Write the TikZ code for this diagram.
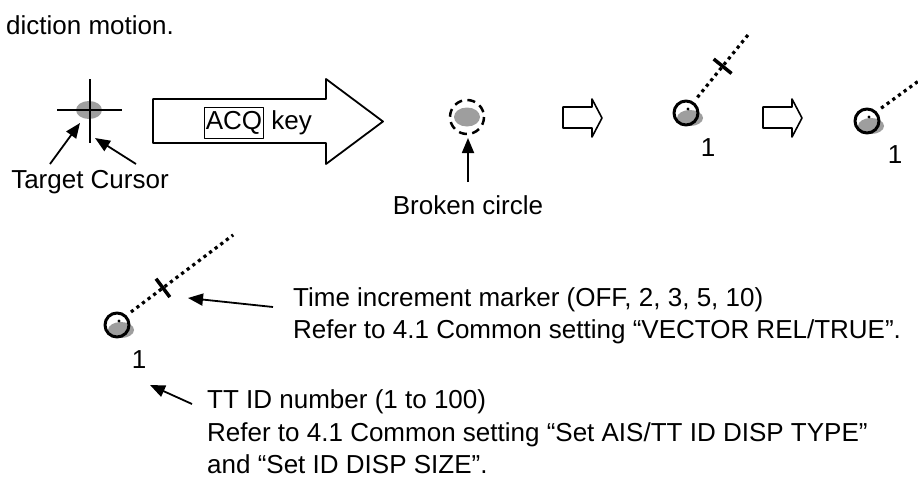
\documentclass[tikz,border=0pt]{standalone}
\usepackage{fontspec}
\setmainfont{Liberation Sans}
\usetikzlibrary{arrows.meta}
\begin{document}
\begin{tikzpicture}[x=1pt,y=-1pt,line join=round,
    txt/.style={font=\fontsize{26}{32.5}\selectfont,inner sep=0pt},
    blip/.style={fill=black!38},
    ring/.style={line width=3pt},
    vec/.style={line width=3.2pt,dash pattern=on 3.2pt off 3.8pt},
    tickmark/.style={line width=3.5pt},
    ptr/.style={line width=1.8pt,-{Triangle[length=15pt,width=12pt]}},
    hollow/.style={line width=1.8pt,fill=white}]
\useasboundingbox (0,0) rectangle (918,479);
\node[txt,anchor=east] (cap) at (174,25) {diction motion.};
% cursor on the echo
\fill[blip] (89,110) ellipse (13 and 9);
\draw[line width=2.2pt] (57,110) -- (122,110) (90,79) -- (90,143);
\node[txt] (tc) at (90,182) {Target Cursor};
\path (50,164) coordinate (tc1) (136,164) coordinate (tc2)
      (80,123) coordinate (ech) (95,138) coordinate (crs);
\draw[ptr] (tc1) -- (ech);
\draw[ptr] (tc2) -- (crs);
% ACQ key arrow
\draw[hollow] (153,99) -- (326,99) -- (326,79) -- (383,121.5) -- (326,164) -- (326,143) -- (153,143) -- cycle;
\node[txt,draw,line width=1.4pt,minimum width=59pt,minimum height=31pt] (acq) at (234,123) {ACQ};
\node[txt,anchor=base west] (key) at ([xshift=7pt]acq.base east) {key};
% broken circle
\fill[blip] (467,117) ellipse (13 and 9.5);
\draw[line width=2.5pt,dash pattern=on 8pt off 5.4pt] (467,117) circle (17);
\node[txt] (bc) at (468,205) {Broken circle};
\path (468,182) coordinate (bct) (468,138) coordinate (bch);
\draw[ptr] (bct) -- (bch);
% step arrows
\foreach \s in {563,763}
  \draw[hollow,line width=1.6pt] (\s,107) -- (\s+29,107) -- (\s+29,99) -- (\s+39,118)
    -- (\s+29,137) -- (\s+29,128) -- (\s,128) -- cycle;
% tracked targets
\foreach \n/\x/\y/\a/\l in {A/686/113/-51/98,B/867/121/-36/70,C/117/325/-37/143}{
  \fill[blip] (\x+4,\y+5) ellipse (13 and 8);
  \draw[ring] (\x,\y) circle (12);
  \fill (\x+2,\y-4) coordinate (dot\n) circle (1.7);
  \draw[vec] (dot\n) ++(\a:15) -- ++(\a:\l-15);
}
\foreach \n/\a in {A/-51,C/-37}
  \draw[tickmark] (dot\n) ++(\a:55) ++(\a+90:11.5) -- ++(\a-90:23);
\foreach \n/\x/\y in {A/708/148,B/895/155,C/139/360}
  \node[txt] (id\n) at (\x,\y) {1};
% callouts
\node[txt,anchor=west,align=left] (tim) at (293,316) {Time increment marker (OFF, 2, 3, 5, 10)\\Refer to 4.1 Common setting “VECTOR REL/TRUE”.};
\path (273,307) coordinate (timt) (188,298) coordinate (timh);
\draw[ptr] (timt) -- (timh);
\node[txt,anchor=west,align=left] (ttid) at (207,432) {TT ID number (1 to 100)\\Refer to 4.1 Common setting “Set AIS/TT ID DISP TYPE”\\and “Set ID DISP SIZE”.};
\path (192,404) coordinate (idt) (150,385) coordinate (idh);
\draw[ptr] (idt) -- (idh);
\end{tikzpicture}
\end{document}
